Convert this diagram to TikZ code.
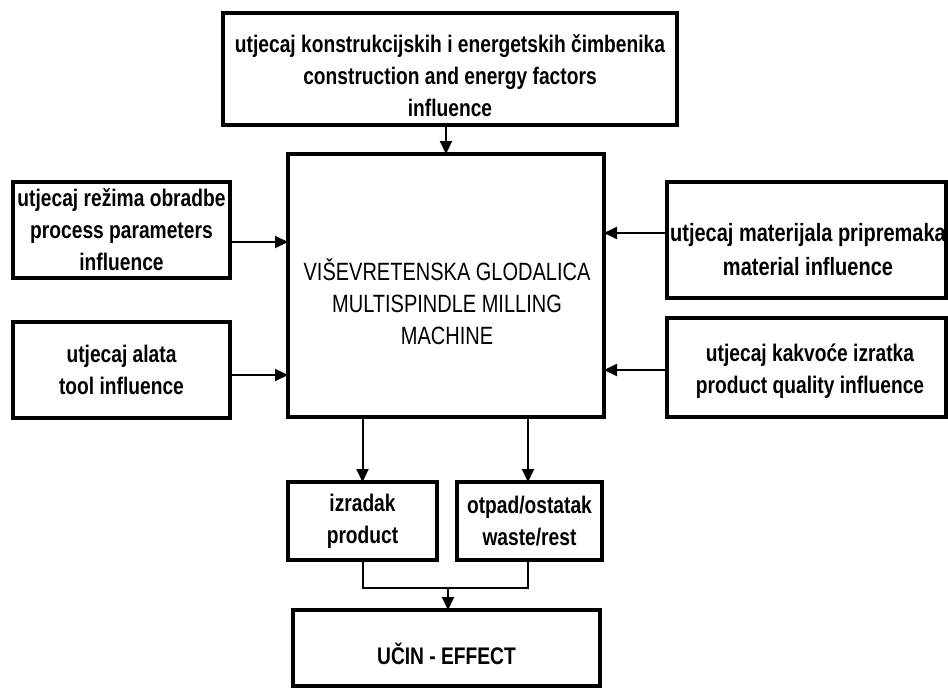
\documentclass[tikz,border=0pt]{standalone}
\usepackage{fontspec}
\setmainfont[FakeStretch=0.8]{Liberation Sans}
\usetikzlibrary{arrows.meta}
\begin{document}
\begin{tikzpicture}[x=1pt,y=1pt,
  txt/.style={inner sep=0pt,align=center,font=\bfseries\fontsize{24}{32}\selectfont},
  box/.style={draw,line width=3.5pt,rectangle,txt,outer sep=0pt},
  conn/.style={line width=2pt,-{Triangle[length=13pt,width=12pt]}},
  plain/.style={line width=2pt}]
\useasboundingbox (0,0) rectangle (948,-688);
\node[box,minimum width=454,minimum height=112] (top) at (450,-69) {};
\node[txt] (topt) at (450,-76)
  {utjecaj konstrukcijskih i energetskih čimbenika\\construction and energy factors\\influence};
\node[box,minimum width=316,minimum height=263] (mc) at (446,-285.5) {};
\node[txt,font=\fontsize{25}{32}\selectfont] (mct) at (447,-302)
  {VIŠEVRETENSKA GLODALICA\\MULTISPINDLE MILLING\\MACHINE};
\node[box,minimum width=217,minimum height=96] (l1) at (121.5,-230)
  {utjecaj režima obradbe\\process parameters\\influence};
\node[box,minimum width=217,minimum height=96] (l2) at (121.5,-370)
  {utjecaj alata\\tool influence};
\node[box,minimum width=279,minimum height=116] (r1) at (806.5,-240) {};
\node[txt,font=\bfseries\fontsize{25}{34}\selectfont] (r1t) at (808,-250)
  {utjecaj materijala pripremaka\\material influence};
\node[box,minimum width=279,minimum height=99] (r2) at (806.5,-367.5) {};
\node[txt] (r2t) at (810,-371)
  {utjecaj kakvoće izratka\\product quality influence};
\node[box,minimum width=149,minimum height=78] (iz) at (362.5,-521)
  {izradak\\product};
\node[box,minimum width=145,minimum height=78] (ot) at (529.5,-521)
  {otpad/ostatak\\waste/rest};
\node[box,minimum width=307,minimum height=76] (uc) at (446.5,-648) {};
\node[txt] (uct) at (446.5,-654) {UČIN - EFFECT};
\coordinate (j) at (448,-588);
\draw[conn] (top.south -| mc.north) -- (mc.north);
\draw[conn] (l1.east |- 0,-242) -- (mc.west |- 0,-242);
\draw[conn] (l2.east |- 0,-375) -- (mc.west |- 0,-375);
\draw[conn] (r1.west |- 0,-233) -- (mc.east |- 0,-233);
\draw[conn] (r2.west |- 0,-370) -- (mc.east |- 0,-370);
\draw[conn] (mc.south -| iz.north) -- (iz.north);
\draw[conn] (mc.south -| 528,0) -- (ot.north -| 528,0);
\draw[plain] (iz.south) |- (j) -| (ot.south -| 528,0);
\draw[conn] (j) -- (uc.north -| j);
\end{tikzpicture}
\end{document}
